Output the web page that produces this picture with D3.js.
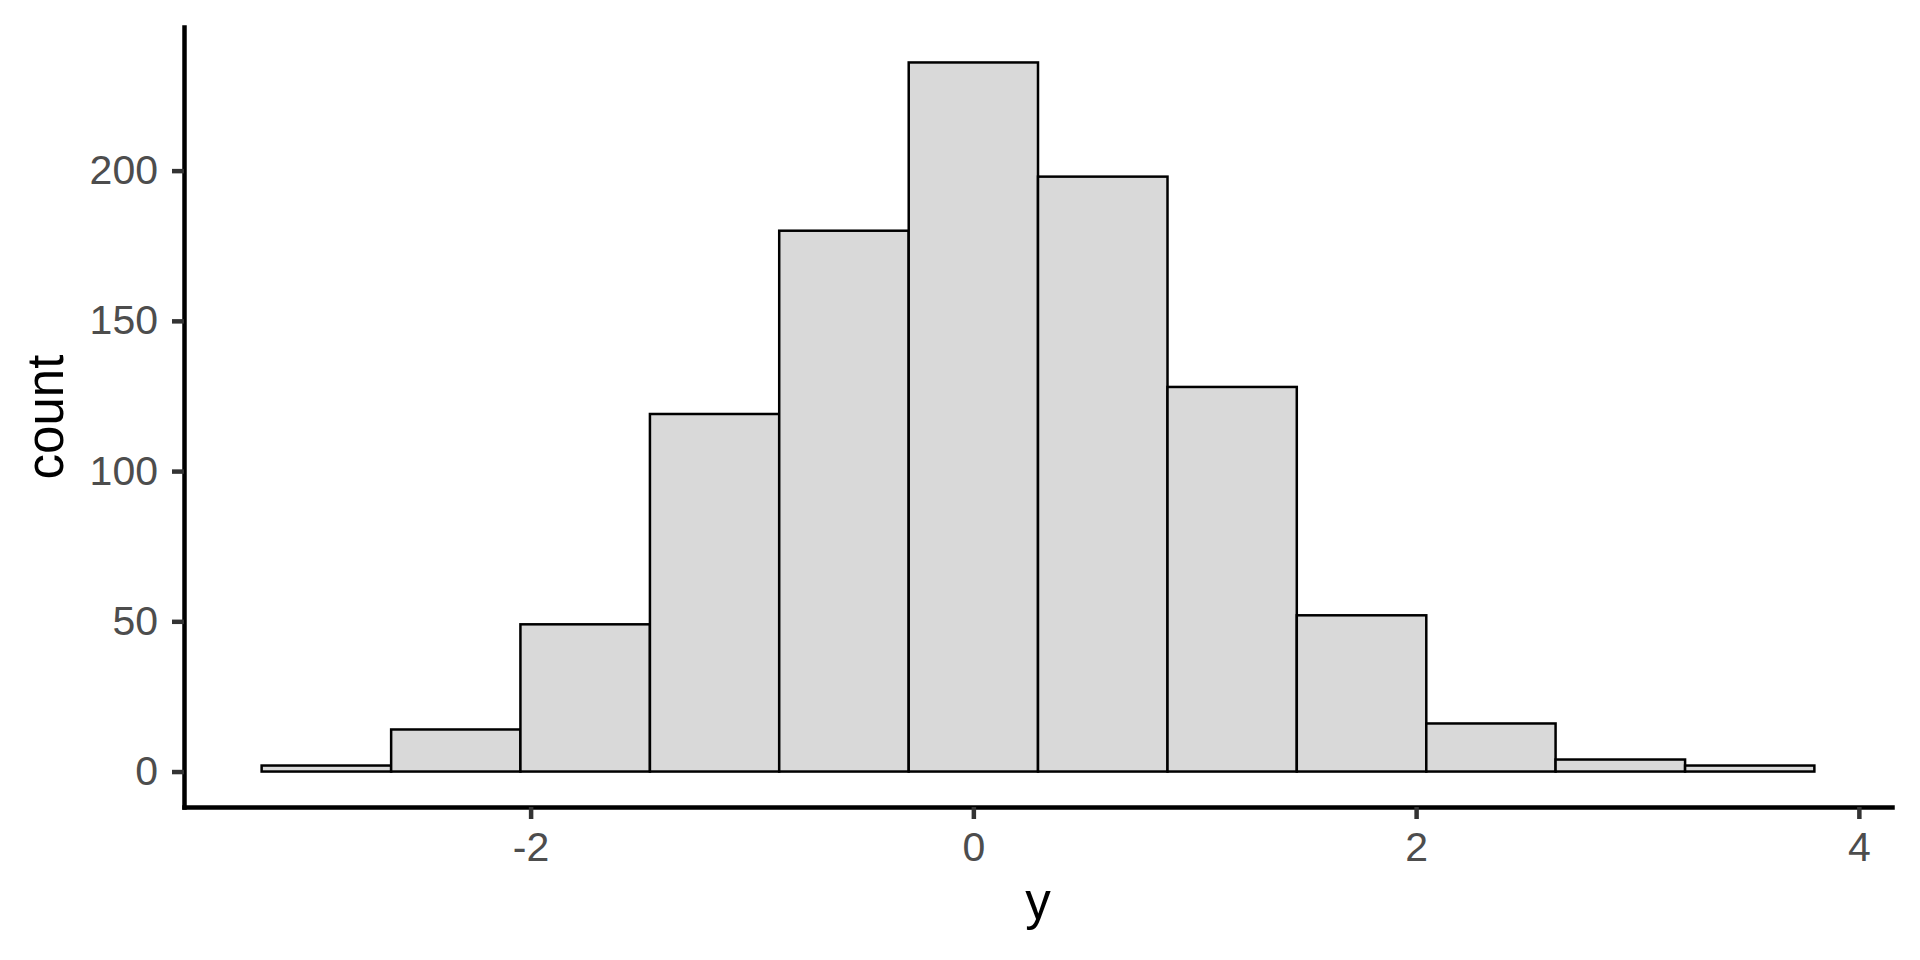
<!DOCTYPE html>
<html>
<head>
<meta charset="utf-8">
<script src="https://cdn.jsdelivr.net/npm/d3@7"></script>
<style>
    body { margin: 0; background: #ffffff; }
    #chart svg { display: block; font-family: "Liberation Sans", Arial, sans-serif; }
</style>
</head>
<body>
<div id="chart"></div>
<script>
// histogram bins
const binEdges = [-3.215, -2.630, -2.046, -1.461, -0.877, -0.292, 0.292, 0.877, 1.461, 2.046, 2.630, 3.215, 3.799];
const counts = [2, 14, 49, 119, 180, 236, 198, 128, 52, 16, 4, 2];
const xTicks = [-2, 0, 2, 4];
const yTicks = [0, 50, 100, 150, 200];
const xTitle = 'y';
const yTitle = 'count';

function draw() {
    const bins = counts.map((c, i) => ({ x0: binEdges[i], x1: binEdges[i + 1], count: c }));

    const dimensions = {
        width: 1920,
        height: 960,
        left: 184,
        right: 1892,
        top: 27,
        bottom: 807
    }

    // ggplot-like 5% expansion on both scales
    const xExt = d3.extent(binEdges);
    const xPad = (xExt[1] - xExt[0]) * 0.05;
    const yMax = d3.max(counts);
    const yPad = yMax * 0.05;

    const xScale = d3.scaleLinear()
        .domain([xExt[0] - xPad, xExt[1] + xPad])
        .range([dimensions.left, dimensions.right])

    const yScale = d3.scaleLinear()
        .domain([-yPad, yMax + yPad])
        .range([dimensions.bottom, dimensions.top])

    const svg = d3.select('#chart')
        .append('svg')
        .attr('width', dimensions.width)
        .attr('height', dimensions.height)

    svg.append('rect')
        .attr('width', dimensions.width)
        .attr('height', dimensions.height)
        .attr('fill', '#ffffff')

    // bars
    svg.append('g')
        .selectAll('rect')
        .data(bins)
        .join('rect')
        .attr('x', d => xScale(d.x0))
        .attr('y', d => yScale(d.count))
        .attr('width', d => xScale(d.x1) - xScale(d.x0))
        .attr('height', d => yScale(0) - yScale(d.count))
        .attr('fill', '#D9D9D9')
        .attr('stroke', '#000000')
        .attr('stroke-width', 2.5)

    // axes
    const xAxis = d3.axisBottom(xScale)
        .tickValues(xTicks)
        .tickSizeInner(12)
        .tickSizeOuter(0)
        .tickPadding(13)
        .tickFormat(d => d)

    const xAxisGroup = svg.append('g')
        .attr('transform', `translate(0, ${dimensions.bottom})`)
        .call(xAxis)

    const yAxis = d3.axisLeft(yScale)
        .tickValues(yTicks)
        .tickSizeInner(12)
        .tickSizeOuter(0)
        .tickPadding(14)
        .tickFormat(d => d)

    const yAxisGroup = svg.append('g')
        .attr('transform', `translate(${dimensions.left}, 0)`)
        .call(yAxis)

    ;[xAxisGroup, yAxisGroup].forEach(g => {
        g.select('.domain')
            .attr('stroke', '#000000')
            .attr('stroke-width', 4.5)
            .attr('stroke-linecap', 'square')
        g.selectAll('.tick line')
            .attr('stroke', '#333333')
            .attr('stroke-width', 4.5)
        g.selectAll('.tick text')
            .attr('fill', '#4D4D4D')
            .style('font-size', '41px')
            .style('font-family', '"Liberation Sans", Arial, sans-serif')
    })

    // axis titles
    svg.append('text')
        .attr('x', (dimensions.left + dimensions.right) / 2)
        .attr('y', 919)
        .attr('text-anchor', 'middle')
        .attr('fill', '#000000')
        .style('font-size', '51px')
        .text(xTitle)

    svg.append('text')
        .attr('transform', `translate(63, ${(dimensions.top + dimensions.bottom) / 2}) rotate(-90)`)
        .attr('text-anchor', 'middle')
        .attr('fill', '#000000')
        .style('font-size', '51px')
        .text(yTitle)
}

draw()
</script>
</body>
</html>
